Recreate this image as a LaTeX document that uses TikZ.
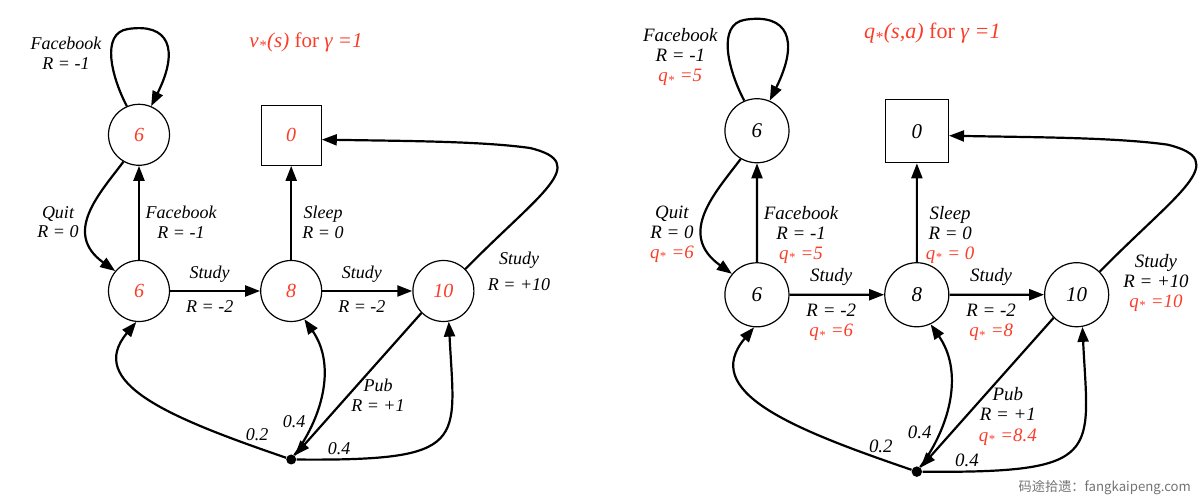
\documentclass[tikz,border=0pt]{standalone}
\usepackage{fontspec}
\setmainfont{Liberation Serif}
\newfontfamily\cjk{Noto Sans CJK SC}
\usetikzlibrary{arrows.meta, positioning}

\definecolor{qred}{RGB}{250,60,40}
\newcommand{\qstar}{\textit{q\textsubscript{*}}}
\newcommand{\vstar}{\textit{v\textsubscript{*}}}

\begin{document}
\begin{tikzpicture}[
    x=0.5pt, y=0.5pt,
    >={Triangle[length=7.5pt, width=5.5pt]},
    node distance=47pt and 45pt,
    state/.style={circle, draw, line width=0.6pt, minimum size=30.5pt, inner sep=0pt, font=\fontsize{10}{12}\selectfont\itshape},
    term/.style={rectangle, draw, line width=0.6pt, minimum size=30pt, inner sep=0pt, font=\fontsize{10}{12}\selectfont\itshape},
    pubdot/.style={circle, fill, inner sep=0pt, minimum size=5pt},
    lbl/.style={align=center, inner sep=1pt, font=\fontsize{9}{9.6}\selectfont\itshape},
    qv/.style={text=qred},
    hd/.style={font=\fontsize{10.5}{12}\selectfont, text=qred},
    link/.style={->, line width=1.1pt}
]
\useasboundingbox (0,0) rectangle (1200,503);

% ===== v* for gamma = 1 =====
% --- States ---
\node[state, qv] (c1L) at (139,212) {6};
\node[state, qv] (c2L) [right=of c1L] {8};
\node[state, qv] (c3L) [right=of c2L] {10};
\node[state, qv] (fbL) [above=of c1L] {6};
\node[term, qv] (sleepL) [above=of c2L] {0};
\node[pubdot] (pubL) [below=66pt of c2L] {};

\node[hd] (titleL) at (306,461) {\vstar\textit{(s)} for \textit{γ =1}};

% --- Actions ---
\draw[link] (fbL.113) .. controls (112,425) and (100,470) .. (128,474) .. controls (168,480) and (180,455) .. (fbL.67);
\draw[link] (fbL.240) .. controls (100,310) and (62,270) .. (c1L.140);
\draw[link] (c1L) -- (fbL);
\draw[link] (c2L) -- (sleepL);
\draw[link] (c1L) -- node[lbl, pos=0.44, above=3pt] {Study} node[lbl, pos=0.44, below=3pt] {R = -2} (c2L);
\draw[link] (c2L) -- node[lbl, pos=0.44, above=3pt] {Study} node[lbl, pos=0.44, below=3pt] {R = -2} (c3L);
\draw[link] (c3L.45) .. controls (540,310) and (592,340) .. (530,355) .. controls (480,362) and (400,362) .. (sleepL.-8);
\draw[link] (c3L.225) -- (pubL);

% --- Chance branches ---
\draw[link] (pubL) .. controls (170,85) and (85,120) .. (c1L.265);
\draw[link] (pubL) .. controls (325,90) and (335,140) .. (c2L.295);
\draw[link] (pubL) .. controls (470,42) and (455,60) .. (c3L.280);

% --- Labels ---
\node[lbl, anchor=north] (fbloopL) at (66,468) {Facebook\\R = -1};
\node[lbl, anchor=north] (quitL) at (58,299) {Quit\\R = 0};
\node[lbl, anchor=north] (fbupL) at (181,299) {Facebook\\R = -1};
\node[lbl, anchor=north] (sleeplbL) at (323,299) {Sleep\\R = 0};
\node[lbl, anchor=north] (studytopL) at (519,253) {Study\\[3pt]R = +10};
\node[lbl, anchor=north] (publbL) at (378,126) {Pub\\R = +1};
\node[lbl] (p1L) at (257,68) {0.2};
\node[lbl] (p2L) at (294,81) {0.4};
\node[lbl] (p3L) at (339,54) {0.4};

% ===== q* for gamma = 1 =====
\begin{scope}[shift={(611,-14.4)}, scale=1.05, transform shape]
% --- States ---
\node[state] (c1R) at (139,212) {6};
\node[state] (c2R) [right=of c1R] {8};
\node[state] (c3R) [right=of c2R] {10};
\node[state] (fbR) [above=of c1R] {6};
\node[term] (sleepR) [above=of c2R] {0};
\node[pubdot] (pubR) [below=66pt of c2R] {};

\node[hd] (titleR) at (306,461) {\qstar\textit{(s,a)} for \textit{γ =1}};

% --- Actions ---
\draw[link] (fbR.113) .. controls (112,425) and (100,470) .. (128,474) .. controls (168,480) and (180,455) .. (fbR.67);
\draw[link] (fbR.240) .. controls (100,310) and (62,270) .. (c1R.140);
\draw[link] (c1R) -- (fbR);
\draw[link] (c2R) -- (sleepR);
\draw[link] (c1R) -- node[lbl, pos=0.44, above=3pt] {Study} node[lbl, pos=0.44, below=3pt] {R = -2\\\color{qred}\qstar{} =6} (c2R);
\draw[link] (c2R) -- node[lbl, pos=0.44, above=3pt] {Study} node[lbl, pos=0.44, below=3pt] {R = -2\\\color{qred}\qstar{} =8} (c3R);
\draw[link] (c3R.45) .. controls (540,310) and (592,340) .. (530,355) .. controls (480,362) and (400,362) .. (sleepR.-8);
\draw[link] (c3R.225) -- (pubR);

% --- Chance branches ---
\draw[link] (pubR) .. controls (170,85) and (85,120) .. (c1R.265);
\draw[link] (pubR) .. controls (325,90) and (335,140) .. (c2R.295);
\draw[link] (pubR) .. controls (470,42) and (455,60) .. (c3R.280);

% --- Labels ---
\node[lbl, anchor=north] (fbloopR) at (66,468) {Facebook\\R = -1\\\color{qred}\qstar{} =5};
\node[lbl, anchor=north] (quitR) at (58,299) {Quit\\R = 0\\\color{qred}\qstar{} =6};
\node[lbl, anchor=north] (fbupR) at (181,299) {Facebook\\R = -1\\\color{qred}\qstar{} =5};
\node[lbl, anchor=north] (sleeplbR) at (323,299) {Sleep\\R = 0\\\color{qred}\qstar{} = 0};
\node[lbl, anchor=north] (studytopR) at (519,253) {Study\\R = +10\\\color{qred}\qstar{} =10};
\node[lbl, anchor=north] (publbR) at (378,126) {Pub\\R = +1\\\color{qred}\qstar{} =8.4};
\node[lbl] (p1R) at (257,68) {0.2};
\node[lbl] (p2R) at (294,81) {0.4};
\node[lbl] (p3R) at (339,54) {0.4};
\end{scope}

\node[anchor=east, text=black!55, font=\cjk\fontsize{6.6}{7}\selectfont] (mark) at (1198,15) {码途拾遗：fangkaipeng.com};

\end{tikzpicture}
\end{document}
